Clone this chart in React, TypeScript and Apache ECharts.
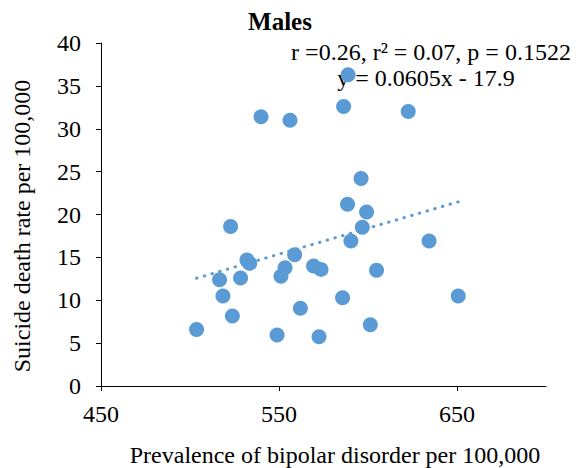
import React, { useEffect, useRef } from "react";
import * as echarts from "echarts";

const prevalence = [
  588.5, 599.2, 596.8, 590.4, 634.3, 522.8, 532.0, 533.5, 558.8, 553.4, 551.1,
  569.4, 573.6, 604.8, 516.6, 528.4, 518.5, 585.7, 650.7, 562.0, 523.8, 503.7,
  548.9, 572.5, 601.3, 588.8, 586.3, 539.9, 556.2, 622.6, 596.1,
];
const suicideRate = [
  21.2, 20.3, 18.5, 16.9, 16.9, 18.6, 14.7, 14.3, 15.3, 13.8, 12.8,
  14.0, 13.6, 13.5, 12.4, 12.6, 10.5, 10.3, 10.5, 9.06, 8.16, 6.6,
  5.95, 5.75, 7.15, 36.3, 32.6, 31.4, 31.0, 32.0, 24.2,
];
const trendX = [503.7, 650.7];
const trendY = [12.57, 21.47];
const xTicks = [450, 550, 650];
const yTicks = [0, 5, 10, 15, 20, 25, 30, 35, 40];

const titleText = "Males";
const statsText = "r =0.26, r² = 0.07, p = 0.1522";
const eqText = "y = 0.0605x - 17.9";
const xName = "Prevalence of bipolar disorder per 100,000";
const yName = "Suicide death rate per 100,000";

const FONT = "'Liberation Serif', 'Times New Roman', serif";
const BLUE = "#5B9BD5";

export default function App() {
  const ref = useRef<HTMLDivElement>(null);
  useEffect(() => {
    if (!ref.current) return;
    const chart = echarts.init(ref.current, null, { renderer: "svg" });
    chart.setOption({
      animation: false,
      backgroundColor: "#fff",
      grid: { left: 101, right: 30, top: 43, bottom: 82 },
      xAxis: {
        type: "value",
        min: 450,
        max: 700,
        interval: 100,
        axisLine: { show: true, lineStyle: { color: "#000", width: 1 } },
        axisTick: { show: true, length: 5, lineStyle: { color: "#000" } },
        splitLine: { show: false },
        axisLabel: {
          color: "#000",
          fontFamily: FONT,
          fontSize: 24,
          margin: 16,
          showMaxLabel: false,
          formatter: (v: number) => (xTicks.includes(v) ? String(v) : ""),
        },
      },
      yAxis: {
        type: "value",
        min: 0,
        max: 40,
        interval: 5,
        axisLine: { show: true, lineStyle: { color: "#000", width: 1 } },
        axisTick: { show: true, length: 5, lineStyle: { color: "#000" } },
        splitLine: { show: false },
        axisLabel: {
          color: "#000",
          fontFamily: FONT,
          fontSize: 24,
          margin: 20,
          formatter: (v: number) => (yTicks.includes(v) ? String(v) : ""),
        },
      },
      graphic: [
        {
          type: "text",
          x: 280,
          y: 21,
          style: {
            text: titleText,
            fontFamily: FONT,
            fontSize: 25,
            fontWeight: "bold",
            fill: "#000",
            align: "center",
            verticalAlign: "middle",
          },
        },
        {
          type: "text",
          x: 431,
          y: 52,
          style: {
            text: statsText,
            fontFamily: FONT,
            fontSize: 24,
            fill: "#000",
            align: "center",
            verticalAlign: "middle",
          },
        },
        {
          type: "text",
          x: 426,
          y: 78,
          style: {
            text: eqText,
            fontFamily: FONT,
            fontSize: 24,
            fill: "#000",
            align: "center",
            verticalAlign: "middle",
          },
        },
        {
          type: "text",
          x: 335,
          y: 455,
          style: {
            text: xName,
            fontFamily: FONT,
            fontSize: 24,
            fill: "#000",
            align: "center",
            verticalAlign: "middle",
          },
        },
        {
          type: "text",
          x: 22,
          y: 226,
          rotation: Math.PI / 2,
          style: {
            text: yName,
            fontFamily: FONT,
            fontSize: 24,
            fill: "#000",
            align: "center",
            verticalAlign: "middle",
          },
        },
      ],
      series: [
        {
          type: "scatter",
          data: prevalence.map((x, i) => [x, suicideRate[i]]),
          symbol: "circle",
          symbolSize: 15,
          itemStyle: { color: BLUE, opacity: 1 },
          z: 2,
        },
        {
          type: "line",
          data: trendX.map((x, i) => [x, trendY[i]]),
          symbol: "none",
          lineStyle: { color: BLUE, width: 3, type: [0.5, 7.5], cap: "round" },
          z: 3,
        },
      ],
    });
    return () => chart.dispose();
  }, []);
  return (
    <div
      ref={ref}
      style={{ position: "fixed", left: 0, top: 0, width: 576, height: 468 }}
    />
  );
}
